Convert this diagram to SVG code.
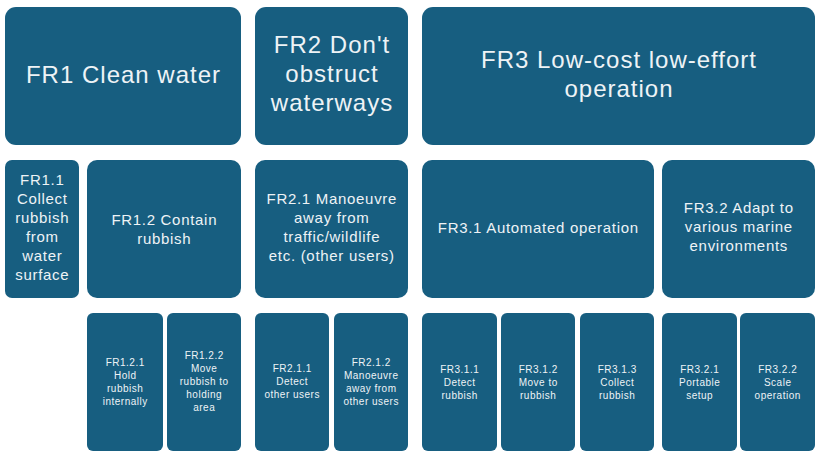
<svg xmlns="http://www.w3.org/2000/svg" width="821" height="452" viewBox="0 0 821 452">
<style>
.b{fill:#175e80}
text{fill:#eef3f6;font-family:"Liberation Sans",Arial,sans-serif;text-anchor:middle}
.t1{font-size:24px;letter-spacing:1px}
.t2{font-size:15px;letter-spacing:0.7px}
.t3{font-size:10px;letter-spacing:0.5px}
</style>
<rect width="821" height="452" fill="#ffffff"/>
<g id="FR1"><rect class="b" x="5" y="7" width="236" height="138" rx="11"/><text class="t1" x="123.5" y="83">FR1 Clean water</text></g>
<g id="FR2"><rect class="b" x="255" y="7" width="153" height="138" rx="11"/><text class="t1" x="332" y="53">FR2 Don't</text><text class="t1" x="332" y="82">obstruct</text><text class="t1" x="332" y="111">waterways</text></g>
<g id="FR3"><rect class="b" x="422" y="7" width="393" height="138" rx="11"/><text class="t1" x="619" y="68">FR3 Low-cost low-effort</text><text class="t1" x="619" y="97">operation</text></g>

<g id="FR1.1"><rect class="b" x="5" y="160" width="74" height="138" rx="7"/><text class="t2" x="42.3" y="185">FR1.1</text><text class="t2" x="42.3" y="204">Collect</text><text class="t2" x="42.3" y="223">rubbish</text><text class="t2" x="42.3" y="242">from</text><text class="t2" x="42.3" y="261">water</text><text class="t2" x="42.3" y="280">surface</text></g>
<g id="FR1.2"><rect class="b" x="87" y="160" width="154" height="138" rx="10"/><text class="t2" x="164.3" y="225">FR1.2 Contain</text><text class="t2" x="164.3" y="244">rubbish</text></g>
<g id="FR2.1"><rect class="b" x="255" y="160" width="153" height="138" rx="10"/><text class="t2" x="331.8" y="204">FR2.1 Manoeuvre</text><text class="t2" x="331.8" y="223">away from</text><text class="t2" x="331.8" y="242">traffic/wildlife</text><text class="t2" x="331.8" y="261">etc. (other users)</text></g>
<g id="FR3.1"><rect class="b" x="422" y="160" width="232" height="138" rx="10"/><text class="t2" x="538.3" y="233">FR3.1 Automated operation</text></g>
<g id="FR3.2"><rect class="b" x="662" y="160" width="153" height="138" rx="10"/><text class="t2" x="738.8" y="213">FR3.2 Adapt to</text><text class="t2" x="738.8" y="232">various marine</text><text class="t2" x="738.8" y="251">environments</text></g>

<g id="FR1.2.1"><rect class="b" x="87" y="313" width="76" height="138" rx="6"/><text class="t3" x="125.2" y="366">FR1.2.1</text><text class="t3" x="125.2" y="379">Hold</text><text class="t3" x="125.2" y="392">rubbish</text><text class="t3" x="125.2" y="405">internally</text></g>
<g id="FR1.2.2"><rect class="b" x="167" y="313" width="74" height="138" rx="6"/><text class="t3" x="204.2" y="359">FR1.2.2</text><text class="t3" x="204.2" y="372">Move</text><text class="t3" x="204.2" y="385">rubbish to</text><text class="t3" x="204.2" y="398">holding</text><text class="t3" x="204.2" y="411">area</text></g>
<g id="FR2.1.1"><rect class="b" x="255" y="313" width="74" height="138" rx="6"/><text class="t3" x="292.2" y="372">FR2.1.1</text><text class="t3" x="292.2" y="385">Detect</text><text class="t3" x="292.2" y="398">other users</text></g>
<g id="FR2.1.2"><rect class="b" x="334" y="313" width="74" height="138" rx="6"/><text class="t3" x="371.2" y="366">FR2.1.2</text><text class="t3" x="371.2" y="379">Manoeuvre</text><text class="t3" x="371.2" y="392">away from</text><text class="t3" x="371.2" y="405">other users</text></g>
<g id="FR3.1.1"><rect class="b" x="422" y="313" width="75" height="138" rx="6"/><text class="t3" x="459.7" y="373">FR3.1.1</text><text class="t3" x="459.7" y="386">Detect</text><text class="t3" x="459.7" y="399">rubbish</text></g>
<g id="FR3.1.2"><rect class="b" x="501" y="313" width="74" height="138" rx="6"/><text class="t3" x="538.2" y="373">FR3.1.2</text><text class="t3" x="538.2" y="386">Move to</text><text class="t3" x="538.2" y="399">rubbish</text></g>
<g id="FR3.1.3"><rect class="b" x="580" y="313" width="74" height="138" rx="6"/><text class="t3" x="617.2" y="373">FR3.1.3</text><text class="t3" x="617.2" y="386">Collect</text><text class="t3" x="617.2" y="399">rubbish</text></g>
<g id="FR3.2.1"><rect class="b" x="662" y="313" width="75" height="138" rx="6"/><text class="t3" x="699.7" y="373">FR3.2.1</text><text class="t3" x="699.7" y="386">Portable</text><text class="t3" x="699.7" y="399">setup</text></g>
<g id="FR3.2.2"><rect class="b" x="740" y="313" width="75" height="138" rx="6"/><text class="t3" x="777.7" y="373">FR3.2.2</text><text class="t3" x="777.7" y="386">Scale</text><text class="t3" x="777.7" y="399">operation</text></g>
<g id="connectors"></g>
</svg>
